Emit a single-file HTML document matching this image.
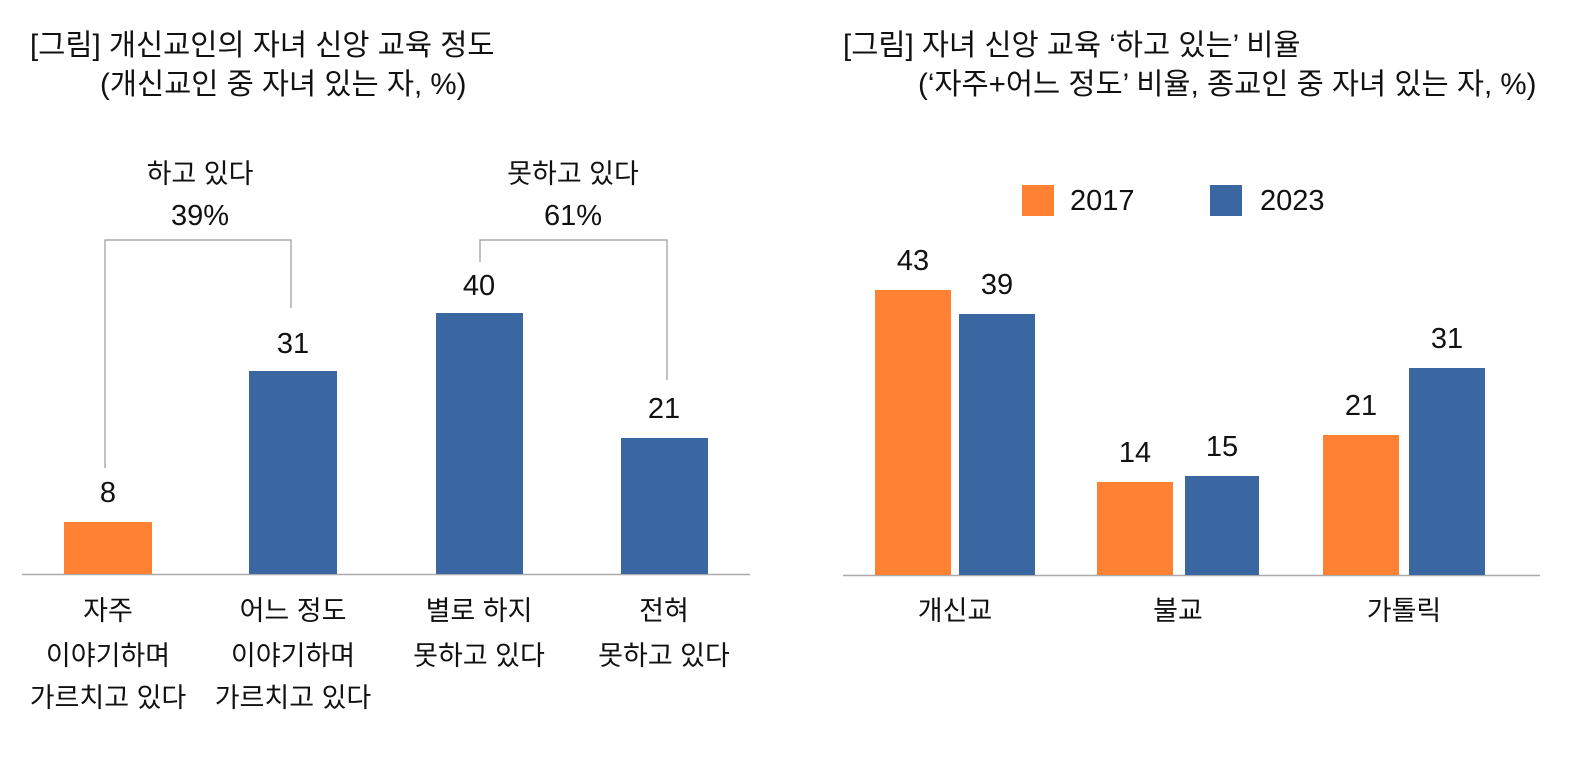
<!DOCTYPE html>
<html><head><meta charset="utf-8"><style>
html,body{margin:0;padding:0;background:#fff;}
svg text{font-family:"Liberation Sans","Noto Sans CJK KR","NanumGothic",sans-serif;fill:#111;}
.n{font-size:29px;}
</style></head><body>
<svg width="1588" height="762" viewBox="0 0 1588 762" xmlns="http://www.w3.org/2000/svg">
<g font-size="29.5">
<text x="30" y="55">[그림] 개신교인의 자녀 신앙 교육 정도</text>
<text x="100" y="94">(개신교인 중 자녀 있는 자, %)</text>
<text x="843" y="55">[그림] 자녀 신앙 교육 ‘하고 있는’ 비율</text>
<text x="918" y="94">(‘자주+어느 정도’ 비율, 종교인 중 자녀 있는 자, %)</text>
</g>
<!-- left chart -->
<line x1="22" y1="574.5" x2="750" y2="574.5" stroke="#aaa" stroke-width="1.5"/>
<rect x="64" y="522" width="88" height="52" fill="#FF8133"/>
<rect x="249" y="371" width="88" height="203" fill="#3A67A2"/>
<rect x="436" y="313" width="87" height="261" fill="#3A67A2"/>
<rect x="621" y="438" width="87" height="136" fill="#3A67A2"/>
<g fill="none" stroke="#999" stroke-width="1.2">
<polyline points="105,468 105,240 291,240 291,308"/>
<polyline points="480,262 480,240 667,240 667,380"/>
</g>
<g font-size="27" text-anchor="middle">
<text class="n" x="108" y="502">8</text>
<text class="n" x="293" y="353">31</text>
<text class="n" x="479" y="295">40</text>
<text class="n" x="664" y="418">21</text>
<text x="200" y="183">하고 있다</text>
<text class="n" x="200" y="225">39%</text>
<text x="573" y="183">못하고 있다</text>
<text class="n" x="573" y="225">61%</text>
<text x="108" y="620">자주</text>
<text x="108" y="665">이야기하며</text>
<text x="108" y="707">가르치고 있다</text>
<text x="293" y="620">어느 정도</text>
<text x="293" y="665">이야기하며</text>
<text x="293" y="707">가르치고 있다</text>
<text x="479" y="620">별로 하지</text>
<text x="479" y="665">못하고 있다</text>
<text x="664" y="620">전혀</text>
<text x="664" y="665">못하고 있다</text>
</g>
<!-- right chart -->
<line x1="843" y1="575.5" x2="1540" y2="575.5" stroke="#aaa" stroke-width="1.5"/>
<rect x="1022" y="185" width="32" height="31" fill="#FF8133"/>
<rect x="1210" y="185" width="32" height="31" fill="#3A67A2"/>
<rect x="875" y="290" width="76" height="285" fill="#FF8133"/>
<rect x="959" y="314" width="76" height="261" fill="#3A67A2"/>
<rect x="1097" y="482" width="76" height="93" fill="#FF8133"/>
<rect x="1185" y="476" width="74" height="99" fill="#3A67A2"/>
<rect x="1323" y="435" width="76" height="140" fill="#FF8133"/>
<rect x="1409" y="368" width="76" height="207" fill="#3A67A2"/>
<text class="n" x="1070" y="210">2017</text>
<text class="n" x="1260" y="210">2023</text>
<g font-size="27" text-anchor="middle">
<text class="n" x="913" y="270">43</text>
<text class="n" x="997" y="294">39</text>
<text class="n" x="1135" y="462">14</text>
<text class="n" x="1222" y="456">15</text>
<text class="n" x="1361" y="415">21</text>
<text class="n" x="1447" y="348">31</text>
<text x="955" y="620">개신교</text>
<text x="1178" y="620">불교</text>
<text x="1404" y="620">가톨릭</text>
</g>
</svg>
</body></html>
